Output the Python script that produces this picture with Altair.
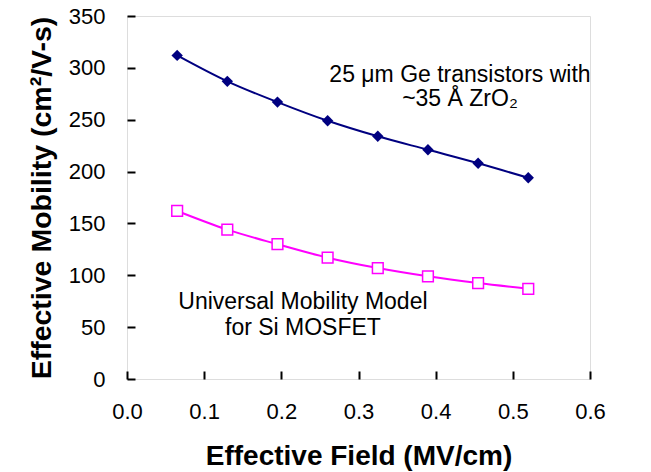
import altair as alt
import pandas as pd

field = [0.065, 0.13, 0.195, 0.26, 0.325, 0.39, 0.455, 0.52]
ge_mobility = [312, 287, 267, 249, 234, 221, 208, 194]
si_mobility = [162, 144, 130, 117, 107, 99, 92.5, 87]

x_ticks = [round(i * 0.05, 2) for i in range(13)]
y_ticks = [i * 25 for i in range(15)]

notes_x = [0.4315, 0.4315, 0.228, 0.228]
notes_y = [293, 270, 74, 49]
notes_text = ["25 \u03bcm Ge transistors with", "~35 \u00c5 ZrO\u2082",
              "Universal Mobility Model", "for Si MOSFET"]

ge = pd.DataFrame({"field": field, "mobility": ge_mobility})
si = pd.DataFrame({"field": field, "mobility": si_mobility})
notes = pd.DataFrame({"x": notes_x, "y": notes_y, "text": notes_text})

FONT = "Liberation Sans"

xenc = alt.X(
    "field:Q",
    scale=alt.Scale(domain=[0, 0.6], nice=False, zero=False),
    axis=alt.Axis(
        values=x_ticks,
        labelExpr="round(datum.value*100) % 10 == 0 ? format(datum.value, '.1f') : ''",
        title="Effective Field (MV/cm)",
        domain=False, grid=False, tickSize={"expr": "-8"}, tickWidth=2, tickColor="black",
        labelPadding=30, labelFont=FONT, labelFontSize=22, labelColor="black",
        titleFont=FONT, titleFontSize=28, titleFontWeight="bold", titleColor="black",
        titlePadding=20, labelFlush=False,
    ),
)
yenc = alt.Y(
    "mobility:Q",
    scale=alt.Scale(domain=[0, 350], nice=False),
    axis=alt.Axis(
        values=y_ticks,
        labelExpr="datum.value % 50 == 0 ? datum.label : ''",
        title="Effective Mobility (cm\u00b2/V-s)",
        domain=False, grid=False, tickSize={"expr": "-8"}, tickWidth=2, tickColor="black",
        labelPadding=30, labelFont=FONT, labelFontSize=22, labelColor="black",
        titleFont=FONT, titleFontSize=28.5, titleFontWeight="bold", titleColor="black",
        titlePadding=12, labelFlush=False,
    ),
)

ge_line = alt.Chart(ge).mark_line(color="#000080", strokeWidth=2, interpolate="monotone").encode(x=xenc, y=yenc)
ge_pts = alt.Chart(ge).mark_point(shape="diamond", filled=True, color="#000080", size=130, opacity=1).encode(x="field:Q", y="mobility:Q")
si_line = alt.Chart(si).mark_line(color="#FF00FF", strokeWidth=2, interpolate="monotone").encode(x="field:Q", y="mobility:Q")
si_pts = alt.Chart(si).mark_point(shape="square", filled=False, fill="white", fillOpacity=1, color="#FF00FF", strokeWidth=1.5, size=115, opacity=1).encode(x="field:Q", y="mobility:Q")
txt = alt.Chart(notes).mark_text(font=FONT, fontSize=23, color="black", align="center", baseline="middle").encode(
    x="x:Q", y="y:Q", text="text:N")

chart = alt.layer(ge_line, ge_pts, si_line, si_pts, txt).properties(
    width=463, height=363,
    autosize=alt.AutoSizeParams(type="none"),
    padding={"left": 119, "top": 8, "right": 53, "bottom": 95},
).configure_view(stroke="black", strokeWidth=2).configure(background="white")

chart.save("out.html", embed_options={"renderer": "svg", "actions": False})
